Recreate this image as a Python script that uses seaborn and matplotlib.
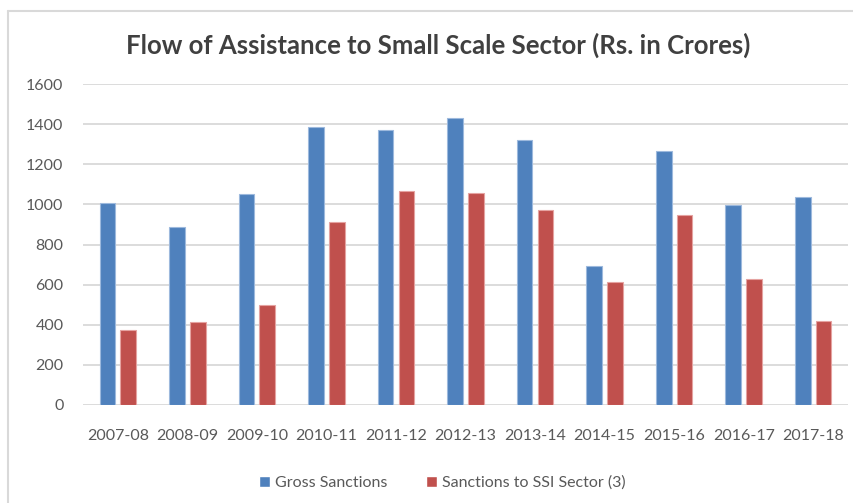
import numpy as np
import pandas as pd
import seaborn as sns
import matplotlib.pyplot as plt
from matplotlib.lines import Line2D

years = ['2007-08', '2008-09', '2009-10', '2010-11', '2011-12', '2012-13',
         '2013-14', '2014-15', '2015-16', '2016-17', '2017-18']
gross = [1005, 887, 1052, 1388, 1373, 1432, 1322, 693, 1266, 997, 1036]
ssi = [374, 414, 498, 910, 1068, 1058, 970, 611, 945, 626, 418]
series = ['Gross Sanctions', 'Sanctions to SSI Sector (3)']
colors = ['#4F81BD', '#C0504D']

df = pd.DataFrame({
    'year': years * 2,
    'value': gross + ssi,
    'series': [series[0]] * len(years) + [series[1]] * len(years),
})

sns.set_style('white')
plt.rcParams['font.family'] = ['Lato', 'DejaVu Sans']
text_col = '#595959'

fig = plt.figure(figsize=(8.54, 5.03), dpi=100)
ax = fig.add_axes([83 / 854, 1 - 405 / 503, (848 - 83) / 854, (405 - 84) / 503])

sns.barplot(data=df, x='year', y='value', hue='series', palette=colors,
            width=0.6, gap=0.25, saturation=1, ax=ax, legend=True)
for i, cont in enumerate(ax.containers):
    for p in cont:
        p.set_edgecolor(['#9DB9DD', '#E5A3A1'][i])
        p.set_linewidth(0.8)

ax.set_ylim(0, 1600)
ax.set_yticks(range(0, 1601, 200))
ax.set_xlim(-0.5, len(years) - 0.5)
ax.grid(axis='y', color='#D9D9D9', linewidth=1.3)
ax.set_axisbelow(True)
sns.despine(ax=ax, left=True, bottom=True)
ax.set_xlabel('')
ax.set_ylabel('')
ax.tick_params(axis='y', length=0, pad=14, labelsize=11.5, labelcolor=text_col)
ax.tick_params(axis='x', length=0, pad=17, labelsize=11.5, labelcolor=text_col)

leg = ax.legend(loc='center', bbox_to_anchor=(442 / 854, 1 - 483 / 503),
                bbox_transform=fig.transFigure, ncol=2, frameon=False,
                fontsize=11.5, handlelength=0.7, handleheight=0.7,
                handletextpad=0.3, columnspacing=2.4)
for t in leg.get_texts():
    t.set_color(text_col)

fig.text(438 / 854, 1 - 45 / 503, 'Flow of Assistance to Small Scale Sector (Rs. in Crores)',
         ha='center', va='center', fontsize=18.5, fontweight='bold', color='#404040')

# chart frame (left and top edges as in the screenshot)
fig.add_artist(Line2D([8 / 854, 8 / 854], [0, 1 - 11 / 503], transform=fig.transFigure,
                      color='#D9D9D9', linewidth=1.5))
fig.add_artist(Line2D([8 / 854, 1], [1 - 11 / 503, 1 - 11 / 503], transform=fig.transFigure,
                      color='#D9D9D9', linewidth=1.5))

fig.savefig('out.png', dpi=100)
